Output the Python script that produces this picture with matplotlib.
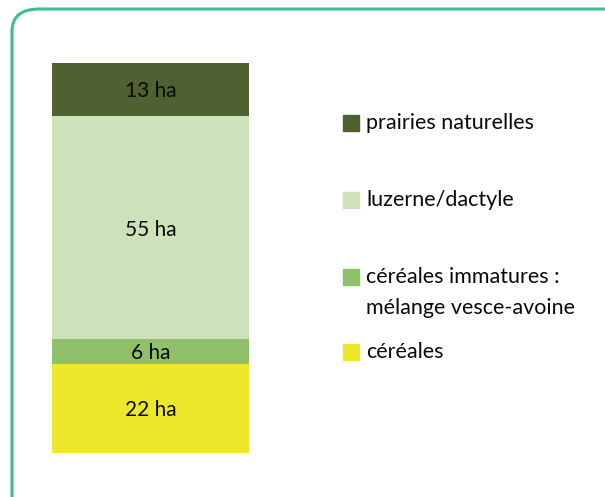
import matplotlib.pyplot as plt
from matplotlib.patches import FancyBboxPatch, Rectangle

# surfaces (ha), du haut vers le bas de la barre
categories = ['prairies naturelles', 'luzerne/dactyle',
              'céréales immatures :\nmélange vesce-avoine', 'céréales']
surfaces = [13, 55, 6, 22]
labels = ['13 ha', '55 ha', '6 ha', '22 ha']
colors = ['#4f6130', '#cde1bb', '#90c06a', '#eee82a']

plt.rcParams['font.family'] = ['Lato', 'DejaVu Sans']

W, H = 605, 497
fig = plt.figure(figsize=(W / 100, H / 100), dpi=100)

# cadre vert arrondi (coupé à droite et en bas)
frame = FancyBboxPatch((12 / W, -20 / H), 640 / W, (H - 9 + 20) / H,
                       boxstyle='round,pad=0,rounding_size=0.045',
                       transform=fig.transFigure, fill=False,
                       edgecolor='#3dbf8c', linewidth=2.2)
fig.patches.append(frame)

ax = fig.add_axes([52 / W, (H - 453) / H, 197 / W, 390 / H])
total = sum(surfaces)
top = total
for val, lab, col in zip(surfaces, labels, colors):
    ax.bar(0, val, bottom=top - val, width=1, color=col, edgecolor='none')
    ax.text(0, top - val / 2 - 0.5, lab, ha='center', va='center',
            fontsize=15, color='#0a0a0a')
    top -= val
ax.set_xlim(-0.5, 0.5)
ax.set_ylim(0, total)
ax.axis('off')

# légende
leg_y = [123, 200, 277, 352]
for cat, col, y in zip(categories, colors, leg_y):
    fig.patches.append(Rectangle((343 / W, (H - y - 8) / H), 16 / W, 16 / H,
                                 transform=fig.transFigure, color=col))
    for i, line in enumerate(cat.split('\n')):
        fig.text(366 / W, (H - y - i * 31) / H, line, ha='left', va='center',
                 fontsize=15.5, color='#0a0a0a')

fig.savefig('out.png', dpi=100)
